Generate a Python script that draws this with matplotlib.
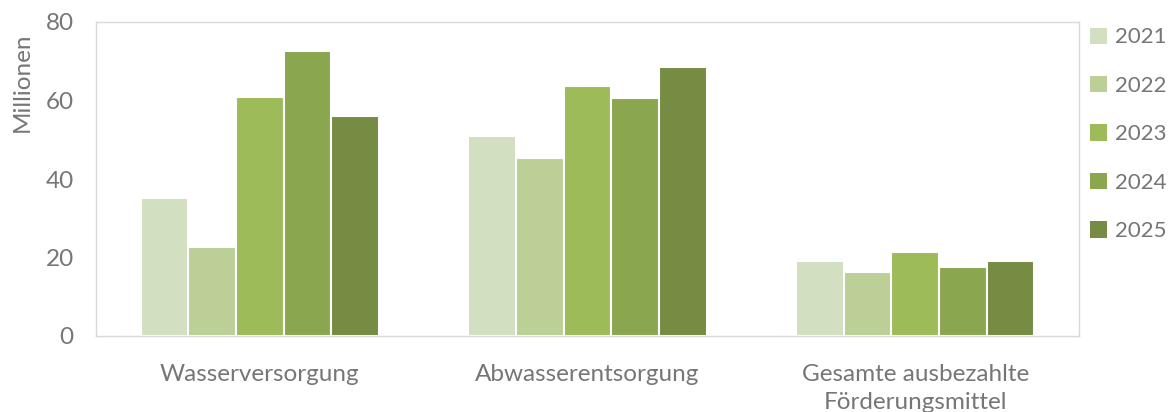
import matplotlib
matplotlib.use("Agg")
import matplotlib.pyplot as plt
import numpy as np
from matplotlib.patches import Patch

categories = ["Wasserversorgung", "Abwasserentsorgung", "Gesamte ausbezahlte\nFörderungsmittel"]
years = ["2021", "2022", "2023", "2024", "2025"]
values_2021 = [35.2, 51.0, 19.0]
values_2022 = [22.6, 45.4, 16.2]
values_2023 = [61.0, 63.7, 21.4]
values_2024 = [72.5, 60.6, 17.7]
values_2025 = [56.1, 68.5, 19.1]
series = [values_2021, values_2022, values_2023, values_2024, values_2025]
colors = ["#d2dfc0", "#bbcf96", "#9dbb59", "#8aa64f", "#758c42"]
yticks = [0, 20, 40, 60, 80]

plt.rcParams['font.family'] = ['Lato', 'DejaVu Sans']
txt = "#767676"
fs = 17.5

fig = plt.figure(figsize=(11.68, 4.12), dpi=100)
ax = fig.add_axes([96/1168, 76/412, 983/1168, 314/412])

x = np.arange(len(categories))
bw = 0.1455
for i, (vals, c) in enumerate(zip(series, colors)):
    ax.bar(x + (i - 2) * bw, vals, width=bw, color=c, edgecolor="white", linewidth=1.5, label=years[i], zorder=2)

ax.set_xlim(-0.5, 2.5)
ax.set_ylim(0, 80)
ax.set_yticks(yticks)
ax.set_xticks(x)
ax.set_xticklabels(categories, fontsize=fs, color=txt, linespacing=1.45)
ax.tick_params(axis='y', labelsize=fs, colors=txt, length=0, pad=16)
ax.tick_params(axis='x', length=0, pad=20)
for s in ax.spines.values():
    s.set_color("#d9d9d9")
    s.set_linewidth(1.0)

fig.text(22/1168, 1 - 82/412, "Millionen", rotation=90, fontsize=fs, color=txt, ha='center', va='center')

handles = [Patch(facecolor=c, edgecolor='none') for c in colors]
leg = fig.legend(handles, years, loc='upper left', bbox_to_anchor=(1081/1168, 1 - 18.5/412),
                 frameon=False, fontsize=16, handlelength=0.75, handleheight=0.75,
                 labelspacing=1.28, handletextpad=0.4, borderaxespad=0)
for t in leg.get_texts():
    t.set_color(txt)

fig.savefig("out.png", dpi=100)
